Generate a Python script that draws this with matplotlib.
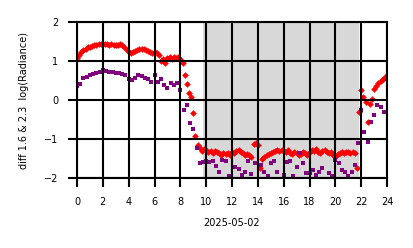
import numpy as np
import matplotlib
matplotlib.use("Agg")
import matplotlib.pyplot as plt

# 10-minute samples, band 1.6 minus 2.3 (red)
red_vals = [
    1.08, 1.15, 1.22, 1.28, 1.32, 1.36,
    1.37, 1.38, 1.40, 1.42, 1.43, 1.44,
    1.45, 1.44, 1.43, 1.42, 1.43, 1.41,
    1.40, 1.42, 1.43, 1.42, 1.35, 1.28,
    1.22, 1.20, 1.22, 1.25, 1.28, 1.30,
    1.32, 1.30, 1.28, 1.25, 1.22, 1.20,
    1.22, 1.20, 1.15, 1.00, 1.05, 0.95,
    1.08, 1.10, 1.06, 1.10, 1.08, 1.10,
    1.05, 0.94, 0.65, 0.42, 0.18, 0.08,
    -0.34, -0.92, -1.15, -1.22, -1.30, -1.25,
    -1.28, -1.32, -1.30, -1.35, -1.30, -1.33,
    -1.37, -1.40, -1.36, -1.38, -1.35, -1.40,
    -1.33, -1.36, -1.30, -1.28, -1.33, -1.36,
    -1.40, -1.38, -1.42, -1.45, -1.12, -1.10,
    -1.15, -1.74, -1.50, -1.45, -1.42, -1.38,
    -1.35, -1.33, -1.30, -1.28, -1.30, -1.27,
    -1.30, -1.33, -1.28, -1.35, -1.38, -1.32,
    -1.36, -1.40, -1.38, -1.34, -1.37, -1.40,
    -1.32, -1.28, -1.30, -1.26, -1.33, -1.35,
    -1.30, -1.27, -1.32, -1.36, -1.33, -1.40,
    -1.45, -1.38, -1.35, -1.33, -1.36, -1.34,
    -1.32, -1.35, -1.33, -1.36, -1.74, -0.30,
    0.25, 0.08, -0.05, -0.55, -0.10, 0.02,
    0.28, 0.35, 0.45, 0.50, 0.55, 0.60,
]
red_t = np.arange(len(red_vals)) / 6.0

# 15-minute samples (purple)
pur_vals = [
    0.35, 0.42, 0.56, 0.60,
    0.64, 0.66, 0.70, 0.72,
    0.77, 0.75, 0.73, 0.72,
    0.69, 0.70, 0.68, 0.64,
    0.55, 0.51, 0.56, 0.64,
    0.62, 0.56, 0.55, 0.46,
    0.64, 0.46, 0.55, 0.38,
    0.30, 0.43, 0.38, 0.43,
    0.26, -0.26, -0.13, -0.60,
    -0.75, -1.24, -1.62, -1.58,
    -1.57, -1.60, -1.57, -1.70,
    -1.85, -1.54, -1.57, -1.95,
    -2.10, -1.72, -1.77, -1.92,
    -1.85, -1.57, -1.90, -1.62,
    -2.10, -1.67, -1.85, -1.95,
    -1.62, -1.57, -1.85, -2.10,
    -1.92, -1.60, -1.57, -1.95,
    -1.72, -1.37, -1.62, -1.88,
    -1.88, -1.80, -1.92, -1.85,
    -1.74, -2.10, -1.88, -1.95,
    -1.54, -1.62, -1.80, -1.85,
    -1.95, -1.85, -1.67, -1.10,
    -0.26, -0.82, -1.07, -0.56,
    -0.38, -0.13, -0.18, -0.30,
]
pur_t = np.arange(len(pur_vals)) / 4.0

night_start, night_end = 9.75, 21.8
xticks = np.arange(0, 25, 2)
yticks = [-2, -1, 0, 1, 2]

fig = plt.figure(figsize=(4.14, 2.48), dpi=100)
ax = fig.add_axes([0.186, 0.282, 0.749, 0.629])

ax.axvspan(night_start, night_end, color="gray", alpha=0.3, lw=0, zorder=0)
ax.plot(red_t, red_vals, "D", color="red", ms=3.4, mew=0, zorder=2)
ax.plot(pur_t, pur_vals, "s", color="purple", ms=2.7, mew=0, zorder=2)

ax.set_xlim(0, 24)
ax.set_ylim(-2, 2)
ax.set_xticks(xticks)
ax.set_yticks(yticks)
ax.grid(True, color="black", lw=1.5, zorder=3)
ax.set_axisbelow(False)
ax.tick_params(length=6.5, width=1.5, pad=7, labelsize=7)
for s in ax.spines.values():
    s.set_linewidth(1.5)
    s.set_zorder(3)

ax.set_xlabel("2025-05-02", fontsize=7, labelpad=8)
ax.set_ylabel("diff 1.6 & 2.3  log(Radiance)", fontsize=7, labelpad=11)

plt.savefig("out.png", dpi=100)
